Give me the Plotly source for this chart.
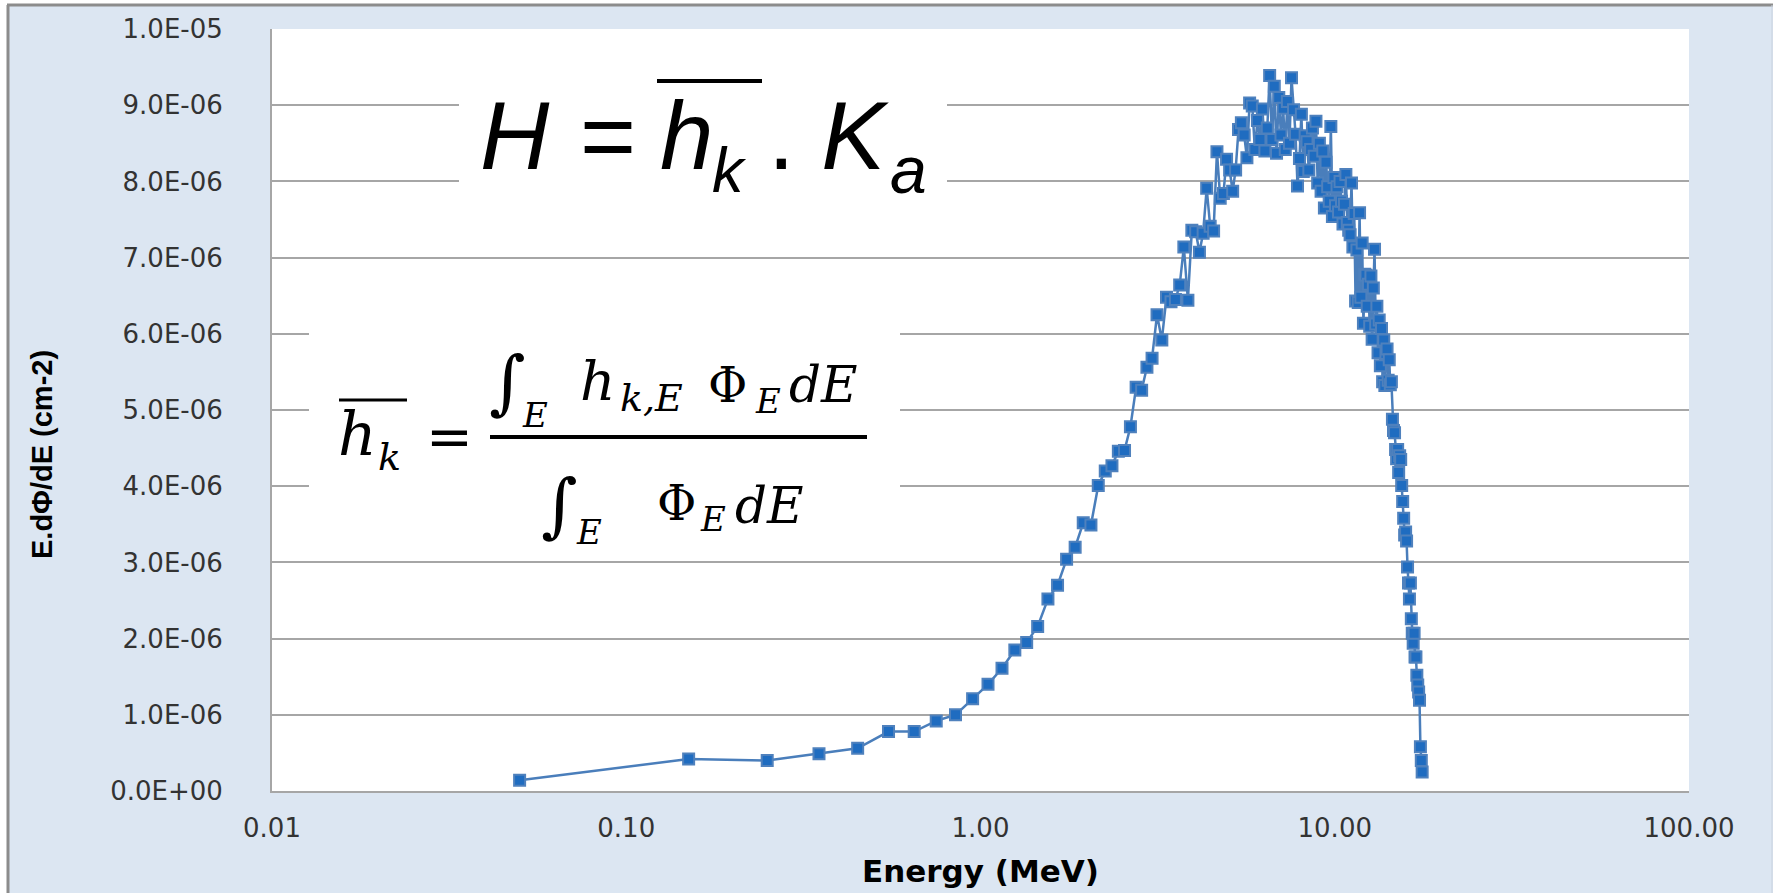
import plotly.graph_objects as go

# ---------------- data ----------------
energy_mev = [
    0.05, 0.15, 0.25, 0.35, 0.45, 0.55, 0.65, 0.75, 0.85, 0.95,
    1.05, 1.15, 1.25, 1.35, 1.45, 1.55, 1.65, 1.75, 1.85, 1.95,
    2.05, 2.15, 2.25, 2.35, 2.45, 2.55, 2.65, 2.75, 2.85, 2.95,
    3.05, 3.15, 3.25, 3.35, 3.45, 3.55, 3.65, 3.75, 3.85, 3.95,
    4.05, 4.15, 4.25, 4.35, 4.45, 4.55, 4.65, 4.75, 4.85, 4.95,
    5.05, 5.15, 5.25, 5.35, 5.45, 5.55, 5.65, 5.75, 5.85, 5.95,
    6.05, 6.15, 6.25, 6.35, 6.45, 6.55, 6.65, 6.75, 6.85, 6.95,
    7.05, 7.15, 7.25, 7.35, 7.45, 7.55, 7.65, 7.75, 7.85, 7.95,
    8.05, 8.15, 8.25, 8.35, 8.45, 8.55, 8.65, 8.75, 8.85, 8.95,
    9.05, 9.15, 9.25, 9.35, 9.45, 9.55, 9.65, 9.75, 9.85, 9.95,
    10.05, 10.15, 10.25, 10.35, 10.45, 10.55, 10.65, 10.75, 10.85, 10.95,
    11.05, 11.15, 11.25, 11.35, 11.45, 11.55, 11.65, 11.75, 11.85, 11.95,
    12.05, 12.15, 12.25, 12.35, 12.45, 12.55, 12.65, 12.75, 12.85, 12.95,
    13.05, 13.15, 13.25, 13.35, 13.45, 13.55, 13.65, 13.75, 13.85, 13.95,
    14.05, 14.15, 14.25, 14.35, 14.45, 14.55, 14.65, 14.75, 14.85, 14.95,
    15.05, 15.15, 15.25, 15.35, 15.45, 15.55, 15.65, 15.75, 15.85, 15.95,
    16.05, 16.15, 16.25, 16.35, 16.45, 16.55, 16.65, 16.75, 16.85, 16.95,
    17.05, 17.15, 17.25, 17.35, 17.45, 17.55, 17.65,
]

# E.dPhi/dE in units of 1e-6 cm^-2
flux_e6 = [
    0.14, 0.42, 0.40, 0.49, 0.56, 0.78, 0.78, 0.92, 1.00, 1.21,
    1.40, 1.61, 1.85, 1.95, 2.16, 2.52, 2.70, 3.04, 3.20, 3.52,
    3.49, 4.01, 4.20, 4.27, 4.46, 4.47, 4.78, 5.30, 5.26, 5.56,
    5.68, 6.25, 5.92, 6.48, 6.42, 6.45, 6.64, 7.14, 6.44, 7.36,
    7.34, 7.07, 7.32, 7.91, 7.41, 7.35, 8.39, 7.78, 7.84, 8.29,
    8.15, 7.87, 8.15, 8.68, 8.77, 8.61, 8.31, 9.03, 8.99, 8.42,
    8.80, 8.55, 8.95, 8.40, 8.70, 9.39, 8.55, 9.25, 8.37, 9.10,
    8.61, 8.96, 8.42, 9.05, 8.50, 9.36, 8.94, 8.62, 7.94, 8.30,
    8.88, 8.13, 8.60, 8.52, 8.15, 8.42, 8.70, 8.33, 8.79, 7.98,
    8.50, 7.87, 8.40, 7.65, 8.25, 7.93, 7.74, 8.72, 7.54, 8.05,
    7.68, 7.93, 7.60, 8.00, 7.74, 7.44, 7.70, 8.09, 7.46, 7.36,
    7.30, 7.98, 7.14, 7.58, 6.43, 7.10, 6.41, 7.59, 6.48, 7.19,
    6.14, 6.78, 6.77, 6.36, 6.65, 6.10, 6.76, 5.93, 6.60, 7.11,
    6.13, 6.36, 5.75, 6.18, 5.58, 6.07, 5.37, 5.92, 5.32, 5.74,
    5.80, 5.39, 5.66, 5.33, 5.37, 4.88, 4.73, 4.70, 4.48, 4.36,
    4.48, 4.18, 4.40, 4.35, 4.01, 3.80, 3.58, 3.36, 3.40, 3.28,
    2.94, 2.73, 2.52, 2.73, 2.26, 2.07, 1.94, 2.07, 1.76, 1.76,
    1.52, 1.39, 1.30, 1.19, 0.58, 0.40, 0.25,
]
flux = [v * 1e-6 for v in flux_e6]

y_tick_vals = [0, 1e-6, 2e-6, 3e-6, 4e-6, 5e-6, 6e-6, 7e-6, 8e-6, 9e-6, 1e-5]
y_tick_text = ["0.0E+00", "1.0E-06", "2.0E-06", "3.0E-06", "4.0E-06", "5.0E-06",
               "6.0E-06", "7.0E-06", "8.0E-06", "9.0E-06", "1.0E-05"]
x_tick_vals = [0.01, 0.1, 1, 10, 100]
x_tick_text = ["0.01", "0.10", "1.00", "10.00", "100.00"]

x_title = "Energy (MeV)"
y_title = "E.dΦ/dE (cm-2)"

# ---------------- layout geometry (pixels) ----------------
W, H = 1773, 893
L, R, T, B = 272, 1689, 29, 791


def px(x):
    return (x - L) / (R - L)


def py(y):
    return (B - y) / (B - T)


fig = go.Figure()
fig.add_trace(go.Scatter(
    x=energy_mev, y=flux, mode="lines+markers",
    line=dict(color="#4A7EBB", width=2.5),
    marker=dict(symbol="square", size=11, color="#1F6CC0",
                line=dict(color="#4F81BD", width=2)),
    showlegend=False, hoverinfo="x+y",
))

shapes = []
# white outer strips + grey border (top/left) of the chart frame
shapes.append(dict(type="rect", xref="paper", yref="paper", layer="above",
                   x0=px(0), x1=px(W), y0=py(0), y1=py(4),
                   fillcolor="white", line=dict(width=0)))
shapes.append(dict(type="rect", xref="paper", yref="paper", layer="above",
                   x0=px(0), x1=px(7), y0=py(0), y1=py(H),
                   fillcolor="white", line=dict(width=0)))
shapes.append(dict(type="line", xref="paper", yref="paper", layer="above",
                   x0=px(7), x1=px(W), y0=py(5), y1=py(5),
                   line=dict(color="#8C8C8C", width=3)))
shapes.append(dict(type="line", xref="paper", yref="paper", layer="above",
                   x0=px(8), x1=px(8), y0=py(5), y1=py(H),
                   line=dict(color="#8C8C8C", width=3)))
shapes.append(dict(type="line", xref="paper", yref="paper", layer="above",
                   x0=px(1772), x1=px(1772), y0=py(5), y1=py(H),
                   line=dict(color="#C9D2DE", width=1)))

# white boxes behind the formulas (hide gridlines)
shapes.append(dict(type="rect", xref="paper", yref="paper", layer="above",
                   x0=px(459), x1=px(947), y0=py(212), y1=py(42),
                   fillcolor="white", line=dict(width=0)))
shapes.append(dict(type="rect", xref="paper", yref="paper", layer="above",
                   x0=px(309), x1=px(900), y0=py(535), y1=py(290),
                   fillcolor="white", line=dict(width=0)))

# overlines and fraction bar
shapes.append(dict(type="line", xref="paper", yref="paper", layer="above",
                   x0=px(657), x1=px(762), y0=py(81), y1=py(81),
                   line=dict(color="black", width=4)))
shapes.append(dict(type="line", xref="paper", yref="paper", layer="above",
                   x0=px(339), x1=px(407), y0=py(400), y1=py(400),
                   line=dict(color="black", width=3)))
shapes.append(dict(type="line", xref="paper", yref="paper", layer="above",
                   x0=px(490), x1=px(867), y0=py(437), y1=py(437),
                   line=dict(color="black", width=4)))

annotations = []


def add_text(text, x, y, size, family, angle=0, color="black"):
    annotations.append(dict(
        text=text, x=px(x), y=py(y), xref="paper", yref="paper",
        xanchor="center", yanchor="middle", showarrow=False,
        textangle=angle, font=dict(family=family, size=size, color=color),
    ))


SANS = "Liberation Sans"
SERIF = "DejaVu Serif"

# H = h_k . K_a
add_text("<i>H</i>", 515, 135, 96, SANS)
add_text("=", 608, 135, 96, SANS)
add_text("<i>h</i>", 686, 135, 96, SANS)
add_text("<i>k</i>", 729, 170, 63, SANS)
add_text(". <i>K</i>", 828, 135, 96, SANS)
add_text("<i>a</i>", 908, 170, 66, SANS)

# h_k = (∫_E h_{k,E} Φ_E dE) / (∫_E Φ_E dE)
add_text("<i>h</i>", 357, 434, 60, SERIF)
add_text("<i>k</i>", 389, 457, 38, SERIF)
add_text("=", 449, 437, 56, SERIF)
add_text("∫", 507, 382, 70, SERIF)
add_text("<i>E</i>", 535, 415, 34, SERIF)
add_text("<i>h</i>", 597, 381, 55, SERIF)
add_text("<i>k,E</i>", 651, 398, 38, SERIF)
add_text("Φ", 727, 385, 48, SERIF)
add_text("<i>E</i>", 768, 401, 34, SERIF)
add_text("<i>dE</i>", 823, 385, 50, SERIF)
add_text("∫", 559, 505, 70, SERIF)
add_text("<i>E</i>", 589, 532, 34, SERIF)
add_text("Φ", 676, 503, 48, SERIF)
add_text("<i>E</i>", 713, 519, 34, SERIF)
add_text("<i>dE</i>", 769, 506, 50, SERIF)

# axis titles
add_text("<b>" + x_title + "</b>", 980, 871, 31, "DejaVu Sans")
add_text("<b>" + y_title + "</b>", 42, 455, 29, SANS, angle=-90)

fig.update_layout(
    width=W, height=H, autosize=False,
    margin=dict(l=L, r=W - R, t=T, b=H - B, pad=0),
    paper_bgcolor="#DCE6F2",
    plot_bgcolor="white",
    shapes=shapes,
    annotations=annotations,
    showlegend=False,
    xaxis=dict(
        type="log", range=[-2, 2],
        tickvals=x_tick_vals, ticktext=x_tick_text,
        showgrid=False, zeroline=False,
        showline=True, linecolor="#A6A6A6", linewidth=2,
        ticks="", ticklabelstandoff=13,
        tickfont=dict(family="DejaVu Sans", size=26, color="#333333"),
    ),
    yaxis=dict(
        range=[0, 1e-5],
        tickvals=y_tick_vals, ticktext=y_tick_text,
        showgrid=True, gridcolor="#A6A6A6", gridwidth=1.5,
        zeroline=False,
        showline=True, linecolor="#A6A6A6", linewidth=2,
        ticks="", ticklabelstandoff=42,
        tickfont=dict(family="DejaVu Sans", size=26, color="#333333"),
    ),
)

fig.write_html(
    "out.html",
    config={"displayModeBar": False},
    post_script="document.body.style.margin='0px';document.body.style.overflow='hidden';",
)
